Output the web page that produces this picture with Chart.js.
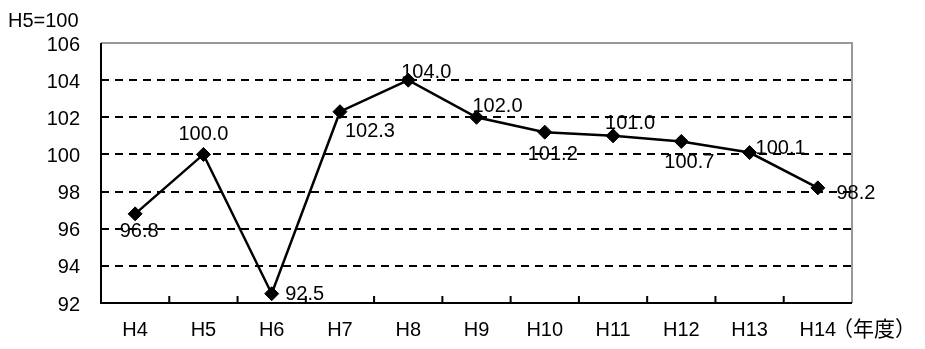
<!DOCTYPE html>
<html>
<head>
<meta charset="utf-8">
<script src="https://cdn.jsdelivr.net/npm/chart.js@4/dist/chart.umd.min.js"></script>
<style>
  html, body { margin: 0; padding: 0; background: #fff; }
  #wrap { width: 925px; height: 349px; position: relative; }
</style>
</head>
<body>
<div id="wrap"><canvas id="myChart"></canvas></div>
<script>
const years = ['H4', 'H5', 'H6', 'H7', 'H8', 'H9', 'H10', 'H11', 'H12', 'H13', 'H14'];
const index = [96.8, 100.0, 92.5, 102.3, 104.0, 102.0, 101.2, 101.0, 100.7, 100.1, 98.2];
const yTicks = [92, 94, 96, 98, 100, 102, 104, 106];
const baseLabel = 'H5=100';
const unitLabel = '（年度）';

// where each value label sits relative to its point (dx, dy in px)
const labelOffsets = [
    [4, 18], [0, -20], [33, 1], [30, 20], [18, -8], [21, -11],
    [8, 22], [17, -12], [8, 21], [31, -4], [38, 6]
];

const FONT = '"Liberation Sans", Arial, "Noto Sans CJK JP", sans-serif';
const CJK = '"Noto Sans CJK JP", sans-serif';

const framePlugin = {
    id: 'frame',
    beforeDatasetsDraw(chart) {
        const { ctx, chartArea: a } = chart;
        const x = chart.scales.x;
        const y = chart.scales.y;
        ctx.save();
        ctx.lineWidth = 2;
        // dashed grid lines
        ctx.strokeStyle = '#000';
        ctx.setLineDash([8, 6]);
        ctx.beginPath();
        yTicks.slice(1, -1).forEach(v => {
            const py = Math.round(y.getPixelForValue(v));
            ctx.moveTo(a.left, py);
            ctx.lineTo(a.right, py);
        });
        ctx.stroke();
        ctx.setLineDash([]);
        // top and right in grey
        ctx.strokeStyle = '#999';
        ctx.beginPath();
        ctx.moveTo(a.left, a.top);
        ctx.lineTo(a.right, a.top);
        ctx.lineTo(a.right, a.bottom);
        ctx.stroke();
        // left and bottom in black
        ctx.strokeStyle = '#000';
        ctx.beginPath();
        ctx.moveTo(a.left, a.top);
        ctx.lineTo(a.left, a.bottom);
        ctx.lineTo(a.right, a.bottom);
        ctx.stroke();
        // small tick marks between categories, pointing up
        const step = (a.right - a.left) / years.length;
        ctx.beginPath();
        for (let i = 1; i < years.length; i++) {
            const px = x.getPixelForValue(i) - step / 2;
            ctx.moveTo(px, a.bottom);
            ctx.lineTo(px, a.bottom - 7);
        }
        ctx.stroke();
        ctx.restore();
    },
    afterDatasetsDraw(chart) {
        const { ctx } = chart;
        const meta = chart.getDatasetMeta(0);
        ctx.save();
        ctx.fillStyle = '#000';
        ctx.font = '20px ' + FONT;
        ctx.textAlign = 'center';
        ctx.textBaseline = 'middle';
        meta.data.forEach((pt, i) => {
            const [dx, dy] = labelOffsets[i];
            ctx.fillText(index[i].toFixed(1), pt.x + dx, pt.y + dy);
        });
        ctx.textAlign = 'left';
        ctx.fillText(baseLabel, 8, 21);
        ctx.textAlign = 'center';
        ctx.font = '21px ' + CJK;
        ctx.fillText(unitLabel, 874, 328);
        ctx.restore();
    }
};

const ctx = document.getElementById('myChart').getContext('2d');

new Chart(ctx, {
    type: 'line',
    data: {
        labels: years,
        datasets: [{
            data: index,
            borderColor: '#000',
            borderWidth: 2.5,
            tension: 0,
            pointStyle: 'rectRot',
            pointRadius: 7,
            pointBackgroundColor: '#000',
            pointBorderColor: '#000',
            pointBorderWidth: 1,
            fill: false,
        }],
    },
    options: {
        responsive: true,
        maintainAspectRatio: false,
        animation: false,
        layout: { padding: { top: 43, right: 73, left: 0, bottom: 0 } },
        plugins: {
            legend: { display: false },
            tooltip: { enabled: false },
        },
        scales: {
            x: {
                offset: true,
                grid: { display: false, drawTicks: false },
                border: { display: false },
                ticks: {
                    color: '#000',
                    padding: 15,
                    font: { family: FONT, size: 20 },
                },
                afterFit(scale) { scale.height = 46; },
            },
            y: {
                min: 92,
                max: 106,
                afterBuildTicks(scale) { scale.ticks = yTicks.map(v => ({ value: v })); },
                grid: { display: false, drawTicks: false },
                border: { display: false },
                ticks: {
                    color: '#000',
                    padding: 21,
                    labelOffset: 2,
                    font: { family: FONT, size: 20 },
                },
                afterFit(scale) { scale.width = 101; },
            },
        },
    },
    plugins: [framePlugin],
});
</script>
</body>
</html>
